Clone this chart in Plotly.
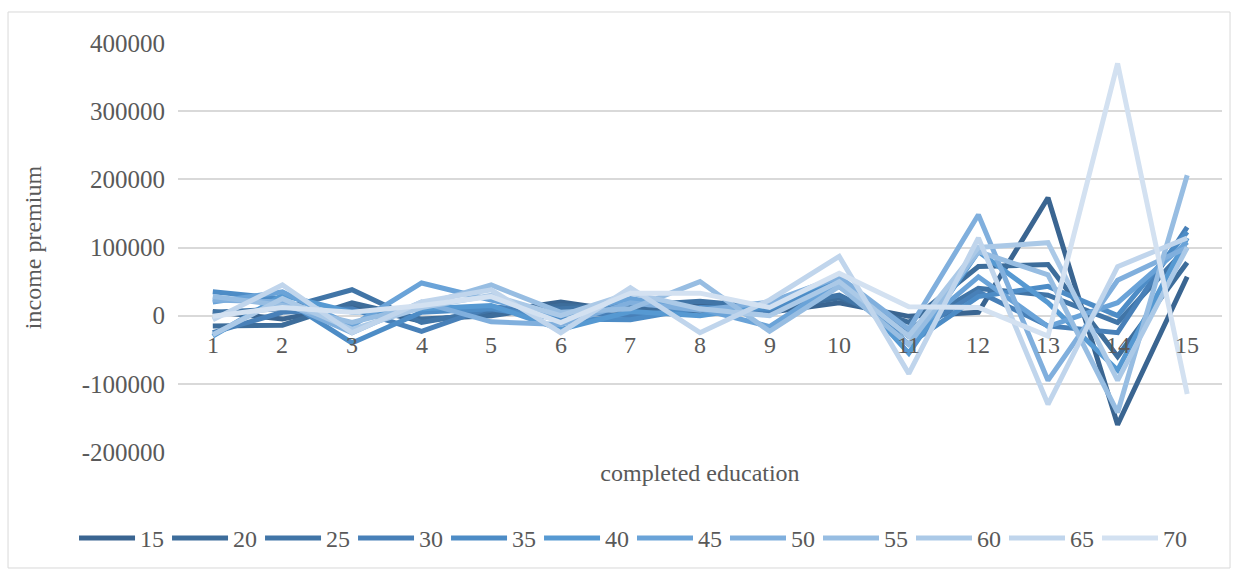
import plotly.graph_objects as go

# Completed-education levels on the category axis
categories = list(range(1, 16))
tick_labels = [str(c) for c in categories]

# Value-axis ticks (plain hyphen for negatives)
y_ticks = [-200000, -100000, 0, 100000, 200000, 300000, 400000]
y_tick_text = ["-200000", "-100000", "0", "100000", "200000", "300000", "400000"]

# Income premium per education level, one series per age group
s15 = [6000, -5000, 15000, -8000, 5000, 20000, 5000, 18000, 5000, 19000, -1000, 5000, 173000, -160000, 57000]
s20 = [-15000, -14000, 19000, -5000, 0, 15000, 10000, 5000, 10000, 26000, -10000, 72000, 75000, -60000, 78000]
s25 = [5000, 10000, 38000, -10000, 8000, 10000, 15000, 21000, 12000, 30000, -20000, 40000, 30000, -10000, 100000]
s30 = [-25000, 5000, 10000, -23000, 13000, 5000, 0, 10000, 5000, 43000, -30000, 35000, -15000, -25000, 130000]
s35 = [35000, 25000, -40000, 5000, 10000, -5000, -6000, 12000, 10000, 50000, -42000, 28000, 43000, 0, 123000]
s40 = [-30000, 30000, 5000, 10000, 15000, -20000, 6000, 0, 15000, 57000, -55000, 94000, 19000, -80000, 114000]
s45 = [20000, 35000, -15000, 48000, 23000, 0, 25000, 10000, -16000, 50000, -30000, 57000, -16000, 19000, 108000]
s50 = [23000, 20000, -25000, 20000, -9000, -13000, 19000, 8000, 20000, 57000, -20000, 148000, -95000, 52000, 100000]
s55 = [28000, 15000, -10000, 15000, 45000, 5000, 10000, 50000, -23000, 43000, -42000, 94000, 60000, -142000, 206000]
s60 = [-28000, 25000, -20000, 12000, 30000, 0, 33000, 10000, 0, 50000, -30000, 100000, 107000, -95000, 100000]
s65 = [-6000, 45000, -25000, 20000, 38000, -25000, 41000, -25000, 23000, 87000, -85000, 114000, -130000, 72000, 114000]
s70 = [-1000, 12000, 5000, 15000, 28000, -10000, 33000, 33000, 12000, 62000, 13000, 12000, -30000, 370000, -115000]

series_names = ["15", "20", "25", "30", "35", "40", "45", "50", "55", "60", "65", "70"]
series_values = [s15, s20, s25, s30, s35, s40, s45, s50, s55, s60, s65, s70]

# Monochromatic blue ramp, dark to light
colors = ["#3a6591", "#3d6d9b", "#4175a7", "#4880b8", "#4d8cc6", "#5699d2",
          "#6aa3d8", "#80afdd", "#97bde2", "#abc9e7", "#c0d5ec", "#d3e1f1"]

FONT = "Liberation Serif, Times New Roman, serif"
TEXT = "#595959"
GRID = "#d9d9d9"
FS = 24

fig = go.Figure()
for i, (name, vals, col) in enumerate(zip(series_names, series_values, colors)):
    # the key row is split over two legend boxes placed side by side
    fig.add_trace(go.Scatter(
        x=categories, y=vals, name=name, mode="lines",
        line=dict(color=col, width=5),
        legend="legend" if i < 6 else "legend2",
    ))

# Category labels sit just under the zero line
for c, lab in zip(categories, tick_labels):
    fig.add_annotation(x=c, y=0, xref="x", yref="y", text=lab, showarrow=False,
                       yanchor="middle", yshift=-29,
                       font=dict(family=FONT, size=FS, color=TEXT))

legend_style = dict(orientation="h", xanchor="left", xref="container",
                    y=0.057, yanchor="middle", yref="container",
                    entrywidth=22, entrywidthmode="pixels", itemwidth=56,
                    font=dict(family=FONT, size=FS, color=TEXT),
                    traceorder="normal", tracegroupgap=0,
                    bgcolor="rgba(0,0,0,0)")

fig.update_layout(
    width=1238, height=571,
    margin=dict(l=178, r=16, t=43, b=119),
    paper_bgcolor="white", plot_bgcolor="white",
    font=dict(family=FONT, size=FS, color=TEXT),
    showlegend=True,
    legend=dict(x=0.0598, **legend_style),
    legend2=dict(x=0.5105, **legend_style),
    xaxis=dict(range=[0.5, 15.5], showticklabels=False, showgrid=False,
               zeroline=False, showline=False, ticks="",
               title=dict(text="completed education", standoff=12,
                          font=dict(family=FONT, size=FS, color=TEXT))),
    yaxis=dict(range=[-200000, 400000], tickvals=y_ticks, ticktext=y_tick_text,
               showgrid=True, gridcolor=GRID, gridwidth=1.5,
               zeroline=True, zerolinecolor=GRID, zerolinewidth=1.5,
               showline=False, ticks="", ticklabelstandoff=12,
               tickfont=dict(family=FONT, size=FS + 1, color=TEXT),
               title=dict(text="income premium", standoff=33,
                          font=dict(family=FONT, size=FS, color=TEXT))),
    shapes=[dict(type="rect", xref="paper", yref="paper", x0=-0.1628, x1=1.0077,
                 y0=-0.2836, y1=1.0758, line=dict(color=GRID, width=1), layer="below")],
)

fig.write_html("out.html")
